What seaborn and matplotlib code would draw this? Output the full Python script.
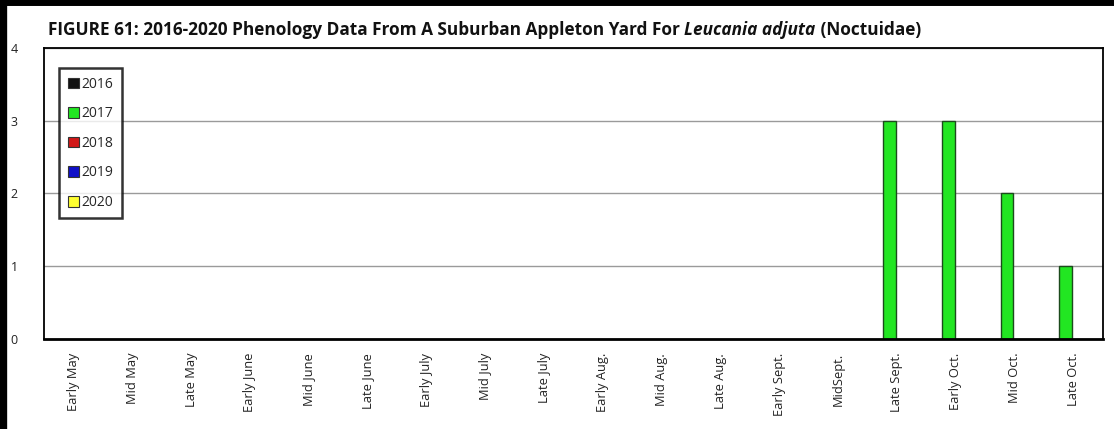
import numpy as np
import pandas as pd
import seaborn as sns
import matplotlib
matplotlib.use("Agg")
from matplotlib import pyplot as plt
from matplotlib.lines import Line2D
from matplotlib.ticker import FixedLocator

periods = ["Early May", "Mid May", "Late May", "Early June", "Mid June", "Late June",
           "Early July", "Mid July", "Late July", "Early Aug.", "Mid Aug.", "Late Aug.",
           "Early Sept.", "MidSept.", "Late Sept.", "Early Oct.", "Mid Oct.", "Late Oct."]
years = ["2016", "2017", "2018", "2019", "2020"]
counts_2016 = [0] * 18
counts_2017 = [0, 0, 0, 0, 0, 0, 0, 0, 0, 0, 0, 0, 0, 0, 3, 3, 2, 1]
counts_2018 = [0] * 18
counts_2019 = [0] * 18
counts_2020 = [0] * 18
year_colors = ["#111111", "#22E622", "#D01818", "#1010C8", "#FFFF30"]

rows = []
for yr, vals in zip(years, [counts_2016, counts_2017, counts_2018, counts_2019, counts_2020]):
    for p, v in zip(periods, vals):
        rows.append({"period": p, "year": yr, "count": v})
df = pd.DataFrame(rows)

sns.set_style("white")
plt.rcParams['font.family'] = ['Open Sans', 'DejaVu Sans']

fig = plt.figure(figsize=(11.14, 4.29), dpi=100)
ax = fig.add_axes([0.0395, 0.21, 0.9505, 0.678])

sns.barplot(data=df, x="period", y="count", hue="year", order=periods, hue_order=years,
            palette=year_colors, saturation=1, width=0.8, edgecolor="#1c4a1c",
            linewidth=1.0, ax=ax, legend=True)

# widen bars a little around their centres, hide empty ones
for p in ax.patches:
    if p.get_height() == 0:
        p.set_visible(False)
        continue
    c = p.get_x() + p.get_width() / 2
    p.set_width(0.22)
    p.set_x(c - 0.11 + 0.03)

ax.set_xlim(-0.5, len(periods) - 0.5)
ax.set_ylim(0, 4)
ax.set_yticks([0, 1, 2, 3, 4])
ax.yaxis.grid(True, color="#9a9a9a", linewidth=1.0)
ax.set_axisbelow(True)
ax.set_xlabel("")
ax.set_ylabel("")

ax.set_xticks(range(len(periods)))
ax.set_xticklabels(periods, rotation=90, fontsize=9.3, color="#222222")
ax.tick_params(axis="x", which="major", length=0, pad=10)
ax.xaxis.set_minor_locator(FixedLocator(np.arange(-0.5, len(periods), 1.0)))
ax.tick_params(axis="x", which="minor", direction="inout", length=9, width=1.5, color="black")
ax.tick_params(axis="y", direction="out", length=5, width=1, color="#444444",
               labelsize=9, labelcolor="#222222", pad=14)

for s in ax.spines.values():
    s.set_color("black")
    s.set_linewidth(1.3)
ax.spines["bottom"].set_linewidth(2)

handles = [plt.Rectangle((0, 0), 1, 1, facecolor=c, edgecolor="#333333", linewidth=0.8)
           for c in year_colors]
leg = ax.legend(handles, years, loc="upper left", bbox_to_anchor=(0.0145, 0.93),
                frameon=True, fancybox=False, fontsize=10, handlelength=0.8,
                handleheight=0.8, handletextpad=0.2, labelspacing=1.05,
                borderpad=0.6, borderaxespad=0)
leg.get_frame().set_edgecolor("black")
leg.get_frame().set_linewidth(1.8)

# title, with the species name in italics
fig.canvas.draw()
renderer = fig.canvas.get_renderer()
parts = [("FIGURE 61: 2016-2020 Phenology Data From A Suburban Appleton Yard For ", "normal"),
         ("Leucania adjuta", "italic"),
         (" (Noctuidae)", "normal")]
x0 = 48 / 1114
for txt, style in parts:
    t = fig.text(x0, 0.93, txt, fontsize=12.4, fontweight="bold", style=style,
                 ha="left", va="center", color="#111111")
    bb = t.get_window_extent(renderer)
    x0 = x0 + bb.width / fig.bbox.width

# black frame edge on left and top
fig.add_artist(Line2D([0.003, 0.003], [0, 1], transform=fig.transFigure, color="black", linewidth=6))
fig.add_artist(Line2D([0, 1], [0.995, 0.995], transform=fig.transFigure, color="black", linewidth=5))

fig.savefig("out.png", dpi=100)
